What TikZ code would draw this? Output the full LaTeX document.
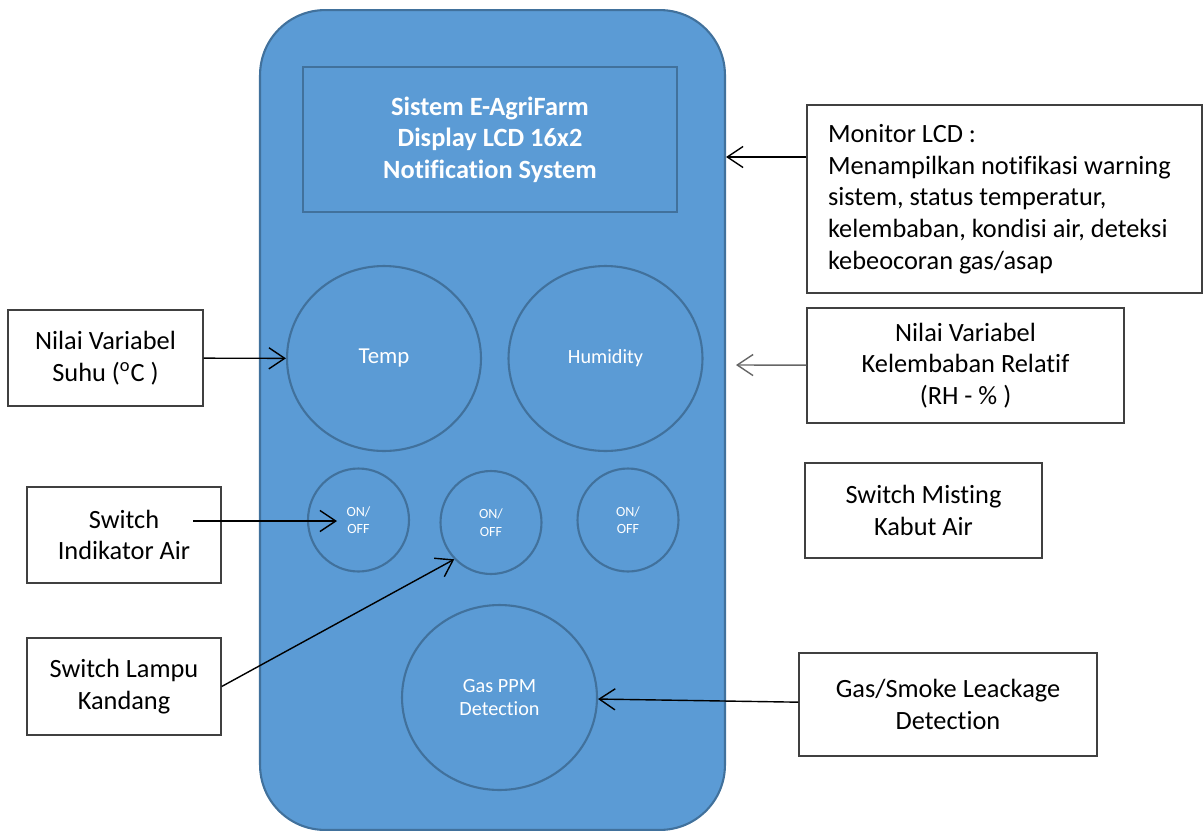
\documentclass[tikz,border=0pt]{standalone}
\usepackage{fontspec}
\setmainfont{Carlito}[Ligatures=NoCommon]
\usetikzlibrary{shapes.geometric,arrows.meta}
\definecolor{phoneblue}{HTML}{5B9BD5}
\definecolor{rimblue}{HTML}{41719C}
\definecolor{boxline}{HTML}{404040}

\begin{document}
\begin{tikzpicture}[x=0.02cm, y=-0.02cm,
    infobox/.style={draw=boxline, fill=white, line width=0.8pt, align=center,
        font=\fontsize{15}{18}\selectfont, inner sep=0pt},
    knob/.style={ellipse, draw=rimblue, line width=1.2pt, text=white, align=center, inner sep=0pt},
    pointer/.style={-{Straight Barb[length=9pt,width=12pt]}, line width=0.8pt}]
\useasboundingbox (0,0) rectangle (1203,832);

% device body
\node[draw=rimblue, fill=phoneblue, line width=1.2pt, rounded corners=1.3cm,
    minimum width=9.3cm, minimum height=16.4cm, inner sep=0pt] (phone) at (492.5,420) {};
\node[draw=rimblue, line width=1.2pt, minimum width=7.48cm, minimum height=2.9cm,
    text=white, align=center, font=\fontsize{15}{18}\selectfont\bfseries] (lcd) at (490,139.5)
    {Sistem E-AgriFarm\\Display LCD 16x2\\Notification System};

% sensor dials
\node[knob, minimum width=3.88cm, minimum height=3.7cm, font=\fontsize{13}{15}\selectfont] (temp) at (384,358.5) {Temp};
\node[knob, minimum width=3.88cm, minimum height=3.7cm, font=\fontsize{11.5}{14}\selectfont] (humid) at (605.5,358.5) {Humidity};
\node[knob, minimum width=3.9cm, minimum height=3.7cm, font=\fontsize{11.5}{13.6}\selectfont] (gas) at (499.5,697.5) {Gas PPM\\Detection};

% switches
\foreach \cx/\cy [count=\i] in {358.5/520, 491/522.5, 628/520} {
    \node[knob, minimum width=2.02cm, minimum height=2.06cm, font=\fontsize{8}{10}\selectfont] (sw\i) at (\cx,\cy) {ON/\\OFF};
}

% labels
\node[infobox, minimum width=7.9cm, minimum height=3.76cm, text width=7.06cm, align=flush left] (monitor) at (1004.5,199)
    {Monitor LCD :\\Menampilkan notifikasi warning\\sistem, status temperatur,\\kelembaban, kondisi air, deteksi\\kebeocoran gas/asap};
\node[infobox, minimum width=3.9cm, minimum height=1.92cm] (suhu) at (105.5,358) {Nilai Variabel\\Suhu (\textsuperscript{o}C )};
\node[infobox, minimum width=3.88cm, minimum height=1.92cm] (indikator) at (124,535) {Switch\\Indikator Air};
\node[infobox, minimum width=3.88cm, minimum height=1.94cm] (lampu) at (124,686.5) {Switch Lampu\\Kandang};
\node[infobox, minimum width=6.34cm, minimum height=2.3cm] (rh) at (965.5,365.5) {Nilai Variabel\\Kelembaban Relatif\\(RH - \% )};
\node[infobox, minimum width=4.74cm, minimum height=1.9cm] (misting) at (923.5,510.5) {Switch Misting\\Kabut Air};
\node[infobox, minimum width=5.96cm, minimum height=2.06cm] (gasbox) at (948,704.5) {Gas/Smoke Leackage\\Detection};

% arrow ends
\coordinate (rhtip) at (736,365);
\coordinate (indfrom) at (193,521);
\coordinate (indtip) at (337,521);

\draw[pointer] (monitor.west |- 0,157) -- (phone.east |- 0,157);
\draw[pointer] (suhu) -- (temp);
\draw[pointer, gray!80!black] (rh) -- (rhtip);
\draw[pointer] (indfrom) -- (indtip);
\draw[pointer] (lampu.east) -- (sw2.225);
\draw[pointer] (gasbox) -- (gas);
\end{tikzpicture}
\end{document}
